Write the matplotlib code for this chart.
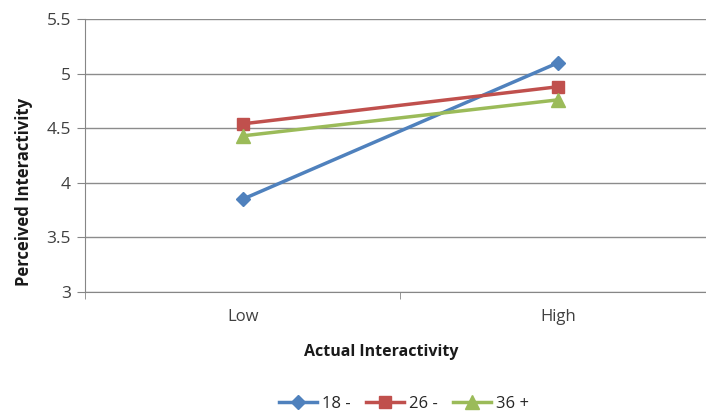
import matplotlib.pyplot as plt
from matplotlib.ticker import FixedLocator

plt.rcParams['font.family'] = ['Open Sans', 'DejaVu Sans']

categories = ['Low', 'High']
age_18 = [3.85, 5.10]
age_26 = [4.54, 4.88]
age_36 = [4.43, 4.76]
series_names = ['18 -', '26 -', '36 +']
y_ticks = [3, 3.5, 4, 4.5, 5, 5.5]

fig = plt.figure(figsize=(7.06, 4.15), dpi=100)
# plot area extends a bit past the right edge, like the original
ax = fig.add_axes([85 / 706, 1 - 292 / 415, (716 - 85) / 706, (292 - 19) / 415])

xs = [0, 1]
ax.plot(xs, age_18, color='#4F81BD', lw=2.5, marker='D', ms=7, label=series_names[0])
ax.plot(xs, age_26, color='#C0504D', lw=2.5, marker='s', ms=9, label=series_names[1])
ax.plot(xs, age_36, color='#9BBB59', lw=2.5, marker='^', ms=10, label=series_names[2])

ax.set_xlim(-0.5, 1.5)
ax.set_ylim(3, 5.5)
ax.set_yticks(y_ticks)
ax.set_yticklabels(['3', '3.5', '4', '4.5', '5', '5.5'])
ax.set_xticks(xs)
ax.set_xticklabels(categories)
ax.xaxis.set_minor_locator(FixedLocator([-0.5, 0.5, 1.5]))
ax.tick_params(axis='x', which='major', length=0, pad=12, labelsize=12, colors='#404040')
ax.tick_params(axis='x', which='minor', length=5, color='#868686')
ax.tick_params(axis='y', length=6, color='#868686', labelsize=12.5, labelcolor='#404040', pad=4)

ax.grid(axis='y', color='#8c8c8c', lw=1)
ax.set_axisbelow(True)
for side in ['top', 'right']:
    ax.spines[side].set_visible(False)
for side in ['left', 'bottom']:
    ax.spines[side].set_color('#868686')

fig.text(381 / 706, 1 - 352 / 415, 'Actual Interactivity', ha='center', va='center',
         fontsize=11.5, fontweight='bold', color='#1a1a1a')
fig.text(24 / 706, 1 - 192 / 415, 'Perceived Interactivity', ha='center', va='center',
         rotation=90, fontsize=12, fontweight='bold', color='#1a1a1a')

fig.legend(loc='center', bbox_to_anchor=(404 / 706, 1 - 404 / 415), ncol=3, frameon=False,
           fontsize=12, handlelength=2.3, columnspacing=0.9, handletextpad=0.3,
           labelcolor='#262626')

fig.savefig('out.png', dpi=100)
